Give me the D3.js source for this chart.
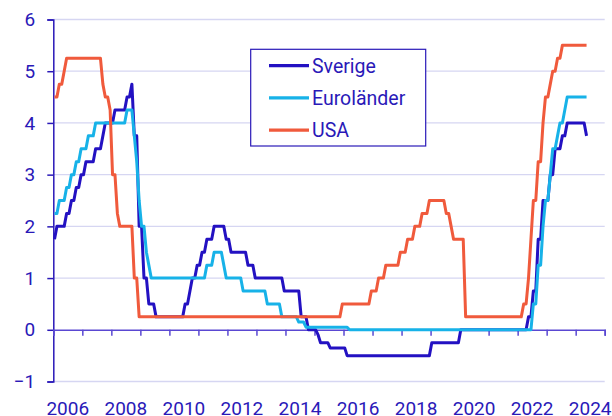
<!DOCTYPE html>
<html>
<head>
<meta charset="utf-8">
<script src="https://cdn.jsdelivr.net/npm/d3@7"></script>
<style>
  html, body { margin: 0; padding: 0; background: #ffffff; }
  svg { display: block; }
  text { font-family: Roboto, "Noto Sans", sans-serif; }
</style>
</head>
<body>
<svg id="chart" width="612" height="416"></svg>
<script>
// Monthly policy rates, Jan 2006 – May 2024 (one row per year)
const startYear = 2006;
const sverige = [
  1.75,2.0,2.0,2.0,2.0,2.25,2.25,2.5,2.5,2.75,2.75,3.0,
  3.0,3.25,3.25,3.25,3.25,3.5,3.5,3.5,3.75,4.0,4.0,4.0,
  4.0,4.25,4.25,4.25,4.25,4.25,4.5,4.5,4.75,3.75,3.75,2.0,
  2.0,1.0,1.0,0.5,0.5,0.5,0.25,0.25,0.25,0.25,0.25,0.25,
  0.25,0.25,0.25,0.25,0.25,0.25,0.5,0.5,0.75,1.0,1.0,1.25,
  1.25,1.5,1.5,1.75,1.75,1.75,2.0,2.0,2.0,2.0,2.0,1.75,
  1.75,1.5,1.5,1.5,1.5,1.5,1.5,1.5,1.25,1.25,1.25,1.0,
  1.0,1.0,1.0,1.0,1.0,1.0,1.0,1.0,1.0,1.0,1.0,0.75,
  0.75,0.75,0.75,0.75,0.75,0.75,0.25,0.25,0.25,0.0,0.0,0.0,
  0.0,-0.1,-0.25,-0.25,-0.25,-0.25,-0.35,-0.35,-0.35,-0.35,-0.35,-0.35,
  -0.35,-0.5,-0.5,-0.5,-0.5,-0.5,-0.5,-0.5,-0.5,-0.5,-0.5,-0.5,
  -0.5,-0.5,-0.5,-0.5,-0.5,-0.5,-0.5,-0.5,-0.5,-0.5,-0.5,-0.5,
  -0.5,-0.5,-0.5,-0.5,-0.5,-0.5,-0.5,-0.5,-0.5,-0.5,-0.5,-0.5,
  -0.25,-0.25,-0.25,-0.25,-0.25,-0.25,-0.25,-0.25,-0.25,-0.25,-0.25,-0.25,
  0,0,0,0,0,0,0,0,0,0,0,0,
  0,0,0,0,0,0,0,0,0,0,0,0,
  0,0,0,0,0.25,0.25,0.75,0.75,1.75,1.75,2.5,2.5,
  2.5,3.0,3.0,3.5,3.5,3.5,3.75,3.75,4.0,4.0,4.0,4.0,
  4.0,4.0,4.0,4.0,3.75
];
const eurolander = [
  2.25,2.25,2.5,2.5,2.5,2.75,2.75,3.0,3.0,3.25,3.25,3.5,
  3.5,3.5,3.75,3.75,3.75,4.0,4.0,4.0,4.0,4.0,4.0,4.0,
  4.0,4.0,4.0,4.0,4.0,4.0,4.25,4.25,4.25,3.75,3.25,2.5,
  2.0,2.0,1.5,1.25,1.0,1.0,1.0,1.0,1.0,1.0,1.0,1.0,
  1.0,1.0,1.0,1.0,1.0,1.0,1.0,1.0,1.0,1.0,1.0,1.0,
  1.0,1.0,1.0,1.25,1.25,1.25,1.5,1.5,1.5,1.5,1.25,1.0,
  1.0,1.0,1.0,1.0,1.0,1.0,0.75,0.75,0.75,0.75,0.75,0.75,
  0.75,0.75,0.75,0.75,0.5,0.5,0.5,0.5,0.5,0.5,0.25,0.25,
  0.25,0.25,0.25,0.25,0.25,0.15,0.15,0.15,0.05,0.05,0.05,0.05,
  0.05,0.05,0.05,0.05,0.05,0.05,0.05,0.05,0.05,0.05,0.05,0.05,
  0.05,0.05,0,0,0,0,0,0,0,0,0,0,
  0,0,0,0,0,0,0,0,0,0,0,0,
  0,0,0,0,0,0,0,0,0,0,0,0,
  0,0,0,0,0,0,0,0,0,0,0,0,
  0,0,0,0,0,0,0,0,0,0,0,0,
  0,0,0,0,0,0,0,0,0,0,0,0,
  0,0,0,0,0,0,0.5,0.5,1.25,1.25,2.0,2.5,
  2.5,3.0,3.5,3.5,3.75,4.0,4.0,4.25,4.5,4.5,4.5,4.5,
  4.5,4.5,4.5,4.5,4.5
];
const usa = [
  4.5,4.5,4.75,4.75,5.0,5.25,5.25,5.25,5.25,5.25,5.25,5.25,
  5.25,5.25,5.25,5.25,5.25,5.25,5.25,5.25,4.75,4.5,4.5,4.25,
  3.0,3.0,2.25,2.0,2.0,2.0,2.0,2.0,2.0,1.0,1.0,0.25,
  0.25,0.25,0.25,0.25,0.25,0.25,0.25,0.25,0.25,0.25,0.25,0.25,
  0.25,0.25,0.25,0.25,0.25,0.25,0.25,0.25,0.25,0.25,0.25,0.25,
  0.25,0.25,0.25,0.25,0.25,0.25,0.25,0.25,0.25,0.25,0.25,0.25,
  0.25,0.25,0.25,0.25,0.25,0.25,0.25,0.25,0.25,0.25,0.25,0.25,
  0.25,0.25,0.25,0.25,0.25,0.25,0.25,0.25,0.25,0.25,0.25,0.25,
  0.25,0.25,0.25,0.25,0.25,0.25,0.25,0.25,0.25,0.25,0.25,0.25,
  0.25,0.25,0.25,0.25,0.25,0.25,0.25,0.25,0.25,0.25,0.25,0.5,
  0.5,0.5,0.5,0.5,0.5,0.5,0.5,0.5,0.5,0.5,0.5,0.75,
  0.75,0.75,1.0,1.0,1.0,1.25,1.25,1.25,1.25,1.25,1.25,1.5,
  1.5,1.5,1.75,1.75,1.75,2.0,2.0,2.0,2.25,2.25,2.25,2.5,
  2.5,2.5,2.5,2.5,2.5,2.5,2.25,2.25,2.0,1.75,1.75,1.75,
  1.75,1.75,0.25,0.25,0.25,0.25,0.25,0.25,0.25,0.25,0.25,0.25,
  0.25,0.25,0.25,0.25,0.25,0.25,0.25,0.25,0.25,0.25,0.25,0.25,
  0.25,0.25,0.5,0.5,1.0,1.75,2.5,2.5,3.25,3.25,4.0,4.5,
  4.5,4.75,5.0,5.0,5.25,5.25,5.5,5.5,5.5,5.5,5.5,5.5,
  5.5,5.5,5.5,5.5,5.5
];
const seriesNames = ["Sverige", "Euroländer", "USA"];
const seriesColors = ["#2311c2", "#17b2e8", "#f05a3c"];
const yTicks = [-1, 0, 1, 2, 3, 4, 5, 6];
const xLabelYears = [2006, 2008, 2010, 2012, 2014, 2016, 2018, 2020, 2022, 2024];

const textColor = "#2a19b8";
const svg = d3.select("#chart");
const x = d3.scaleLinear().domain([2006, 2025]).range([53.3, 604.7]);
const y = d3.scaleLinear().domain([-1, 6]).range([381.5, 19.5]);

// gridlines
svg.append("g").selectAll("line").data(yTicks.filter(v => v !== 0)).join("line")
  .attr("x1", x(2006)).attr("x2", x(2025))
  .attr("y1", d => y(d)).attr("y2", d => y(d))
  .attr("stroke", "#d6d6f2").attr("stroke-width", 1.3);

// left axis
const yAxis = d3.axisLeft(y).tickValues(yTicks).tickSize(6).tickPadding(12).tickFormat(d3.format("d"));
const gy = svg.append("g").attr("transform", `translate(${x(2006)},0)`).call(yAxis);
gy.select(".domain").attr("stroke", textColor).attr("stroke-width", 1.5);
gy.selectAll(".tick line").attr("stroke", textColor).attr("stroke-width", 1.5);
gy.selectAll(".tick text").attr("fill", textColor).attr("font-size", 19)
  .attr("font-family", "Roboto, sans-serif");

// zero line with year ticks
const years = d3.range(2006, 2026);
const xAxis = d3.axisBottom(x).tickValues(years).tickSize(6).tickFormat("");
const gx = svg.append("g").attr("transform", `translate(0,${y(0)})`).call(xAxis);
gx.select(".domain").attr("stroke", "#5a48d2").attr("stroke-width", 1.6);
gx.selectAll(".tick line").attr("stroke", "#5a48d2").attr("stroke-width", 1.5);

// year labels centered in the year interval
svg.append("g").selectAll("text").data(xLabelYears).join("text")
  .attr("x", d => x(d + 0.5)).attr("y", 415)
  .attr("text-anchor", "middle").attr("fill", textColor)
  .attr("font-size", 19).text(d => d);

// series
const allSeries = [sverige, eurolander, usa];
const line = d3.line()
  .x((d, i) => x(startYear + (i + 0.5) / 12))
  .y(d => y(d));
allSeries.forEach((s, k) => {
  svg.append("path").datum(s)
    .attr("fill", "none").attr("stroke", seriesColors[k])
    .attr("stroke-width", 3).attr("stroke-linejoin", "round")
    .attr("d", line);
});

// legend
const lg = svg.append("g");
lg.append("rect").attr("x", 250.7).attr("y", 49.3).attr("width", 175).attr("height", 96.7)
  .attr("fill", "#ffffff").attr("stroke", textColor).attr("stroke-width", 1.2);
seriesNames.forEach((name, k) => {
  const ly = 65.7 + k * 32.2;
  lg.append("line").attr("x1", 269).attr("x2", 309).attr("y1", ly).attr("y2", ly)
    .attr("stroke", seriesColors[k]).attr("stroke-width", 3.2);
  lg.append("text").attr("x", 312).attr("y", ly).attr("dy", "0.35em")
    .attr("fill", textColor).attr("font-size", 19.5).text(name);
});
</script>
</body>
</html>
